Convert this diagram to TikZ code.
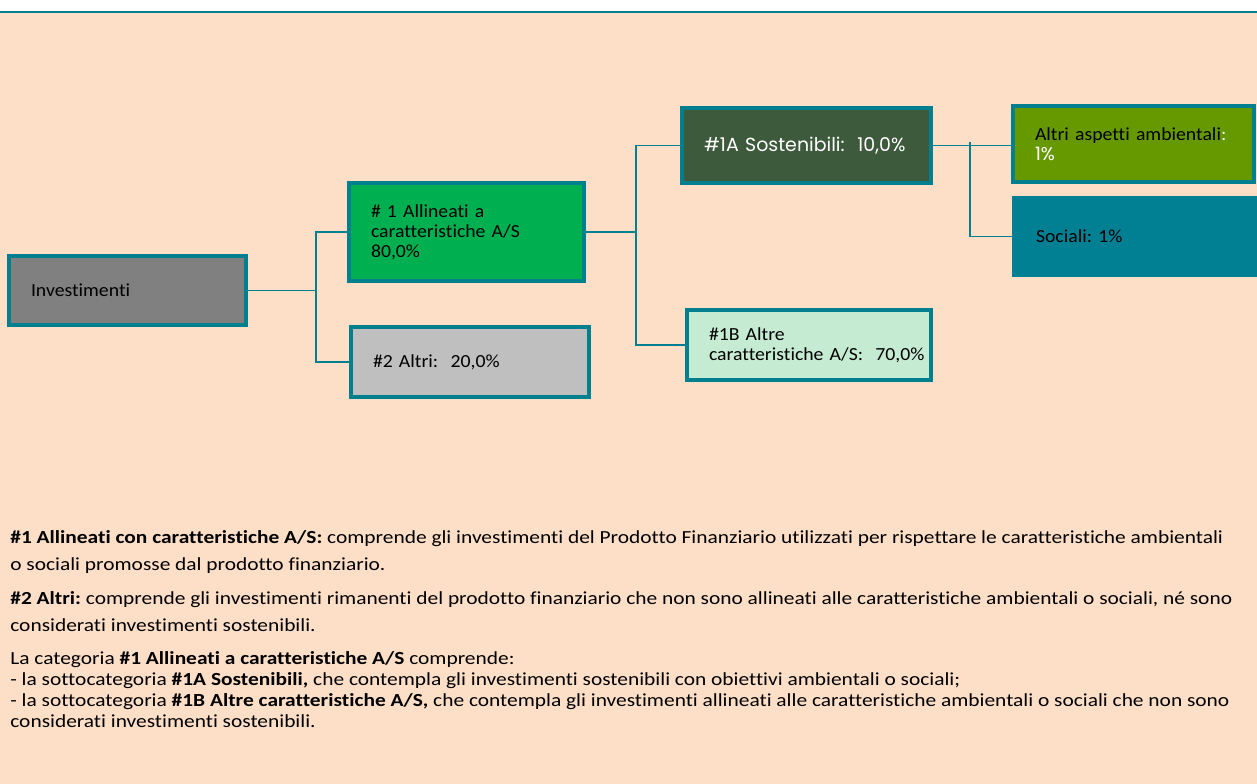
\documentclass[tikz,border=0pt]{standalone}
\usepackage{fontspec}
\setmainfont[Ligatures=NoCommon,FakeStretch=1.07]{Carlito}
\newfontfamily\notefont[Ligatures=NoCommon,FakeStretch=1.16]{Carlito}
\newfontfamily\gothicfont{Poppins}
\usepackage{tikz}
\usetikzlibrary{calc}
\frenchspacing
\definecolor{tealEdge}{RGB}{0,128,143}
\definecolor{peachBg}{RGB}{253,223,199}
\definecolor{invGray}{RGB}{128,128,128}
\definecolor{alignGreen}{RGB}{0,176,80}
\definecolor{otherGray}{RGB}{191,191,191}
\definecolor{sostGreen}{RGB}{62,90,60}
\definecolor{mintGreen}{RGB}{198,235,211}
\definecolor{oliveGreen}{RGB}{102,153,0}
\definecolor{socTeal}{RGB}{0,128,146}
\tikzset{
  catBox/.style={rectangle,draw=tealEdge,fill=#1,line width=2.3pt,
                 inner xsep=0.44cm,inner ysep=0pt,align=left,
                 font=\fontsize{10.5}{11.5}\selectfont},
  link/.style={draw=tealEdge,line width=1.1pt},
  noteText/.style={anchor=north west,inner sep=0pt,align=left,
                   font=\notefont\fontsize{10.5}{15.5}\selectfont},
}

\begin{document}
\begin{tikzpicture}
  \fill[peachBg] (0,-0.26) rectangle (25.14,-15.68);
  \useasboundingbox (0,0) rectangle (25.14,-15.68);
  \draw[tealEdge,line width=1.2pt] (0,-0.24) -- (25.14,-0.24);
  \node[catBox=invGray,text width=3.86cm,minimum height=1.38cm](inv) at (2.55,-5.81)
      {Investimenti};
  \node[catBox=alignGreen,text width=3.82cm,minimum height=1.96cm](al1) at (9.33,-4.64)
      {\#~1 Allineati a\\caratteristiche A/S\\80,0\%};
  \node[catBox=otherGray,text width=3.88cm,minimum height=1.40cm](alt) at (9.40,-7.24)
      {\#2 Altri:~ 20,0\%};
  \node[catBox=sostGreen,text width=4.10cm,minimum height=1.50cm,text=white,
        font=\gothicfont\fontsize{10.8}{12}\selectfont](sost) at (16.13,-2.91)
      {\#1A Sostenibili:~ 10,0\%};
  \node[catBox=mintGreen,text width=4.00cm,minimum height=1.40cm](altB) at (16.18,-6.90)
      {\#1B Altre\\\mbox{caratteristiche A/S:~ 70,0\%}};
  \node[catBox=oliveGreen,text width=3.94cm,minimum height=1.52cm](amb) at (22.67,-2.88)
      {Altri aspetti ambientali\textcolor{white}{:}\\\textcolor{white}{\gothicfont 1\%}};
  \node[catBox=socTeal,draw=socTeal,text width=4.00cm,minimum height=1.54cm](soc) at (22.72,-4.73)
      {Sociali: 1\%};
  \draw[link](inv.east) -- ++(1.36,0) coordinate(f1);
  \draw[link](al1.west) -| (f1) |- (alt.west);
  \draw[link](al1.east) -- ++(1.0,0) coordinate(f2);
  \draw[link](sost.west) -| (f2) |- (altB.west);
  \draw[link](sost.east) -- (sost.east -| amb.west);
  \coordinate(f3) at ($(sost.east)+(0.74,0.06)$);
  \draw[link](f3) |- (soc.west);
  \node[noteText](n1) at (0.2,-10.6)
      {\textbf{\#1 Allineati con caratteristiche A/S:} comprende gli investimenti del Prodotto Finanziario utilizzati per rispettare le caratteristiche ambientali\\
       o sociali promosse dal prodotto finanziario.};
  \node[noteText](n2) at (0.2,-11.82)
      {\textbf{\#2 Altri:} comprende gli investimenti rimanenti del prodotto finanziario che non sono allineati alle caratteristiche ambientali o sociali, né sono\\
       considerati investimenti sostenibili.};
  \node[noteText,font=\notefont\fontsize{10.5}{12}\selectfont](n3) at (0.2,-13.02)
      {La categoria \textbf{\#1 Allineati a caratteristiche A/S} comprende:\\
       - la sottocategoria \textbf{\#1A Sostenibili,} che contempla gli investimenti sostenibili con obiettivi ambientali o sociali;\\
       - la sottocategoria \textbf{\#1B Altre caratteristiche A/S,} che contempla gli investimenti allineati alle caratteristiche ambientali o sociali che non sono\\
       considerati investimenti sostenibili.};
\end{tikzpicture}
\end{document}
